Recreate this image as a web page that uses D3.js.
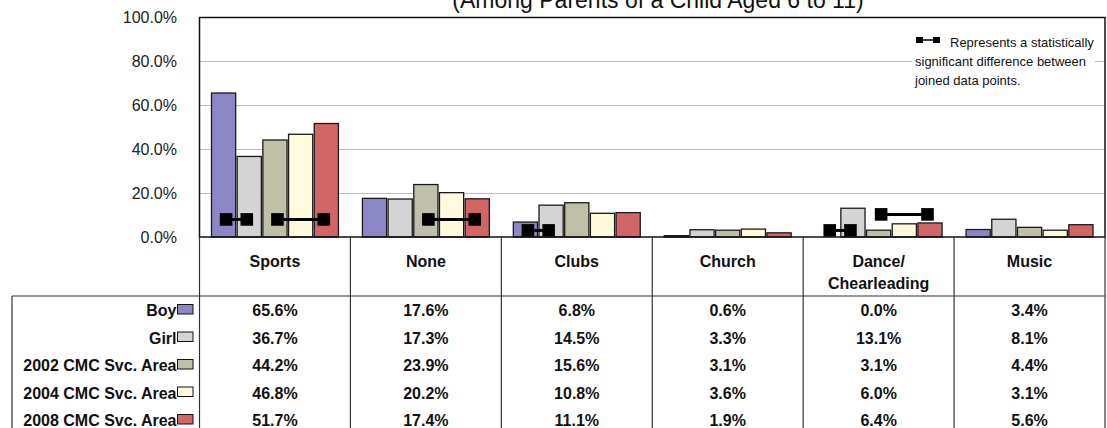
<!DOCTYPE html>
<html>
<head>
<meta charset="utf-8">
<script src="https://cdn.jsdelivr.net/npm/d3@7/dist/d3.min.js"></script>
<style>
  html, body { margin: 0; padding: 0; background: #fff; }
  svg { display: block; font-family: "Liberation Sans", Arial, sans-serif; }
</style>
</head>
<body>
<svg id="chart" width="1107" height="428"></svg>
<script>
// ---------- data ----------
const title = "(Among Parents of a Child Aged 6 to 11)";
const categories = ["Sports", "None", "Clubs", "Church", "Dance", "Music"];
const categoryLabels = [["Sports"], ["None"], ["Clubs"], ["Church"], ["Dance/", "Chearleading"], ["Music"]];
const seriesNames = ["Boy", "Girl", "2002 CMC Svc. Area", "2004 CMC Svc. Area", "2008 CMC Svc. Area"];
const seriesColors = ["#8b87c4", "#d4d4d4", "#c0c0a8", "#fffadc", "#d26666"];
const boy   = [65.6, 17.6, 6.8, 0.6, 0.0, 3.4];
const girl  = [36.7, 17.3, 14.5, 3.3, 13.1, 8.1];
const y2002 = [44.2, 23.9, 15.6, 3.1, 3.1, 4.4];
const y2004 = [46.8, 20.2, 10.8, 3.6, 6.0, 3.1];
const y2008 = [51.7, 17.4, 11.1, 1.9, 6.4, 5.6];
const seriesValues = [boy, girl, y2002, y2004, y2008];
const yTicks = [0, 20, 40, 60, 80, 100];
// significance markers: category, pair of series indices, marker level (%)
const sigCats   = ["Sports", "Sports", "None", "Clubs", "Dance", "Dance"];
const sigFrom   = [0, 2, 2, 0, 0, 2];
const sigTo     = [1, 4, 4, 1, 1, 4];
const sigLevel  = [8, 8, 8, 3, 3, 10.3];
const noteLines = ["Represents a statistically", "significant difference between", "joined data points."];

// ---------- layout ----------
const svg = d3.select("#chart");
const plotL = 199.5, plotR = 1105, plotT = 17.5, plotB = 237;
const tableTop = 237, headerBottom = 296, tableLeft = 12, tableBottom = 428;
const rowBase0 = 316, rowStep = 27.5;

const x = d3.scaleBand().domain(categories).range([plotL, plotR]).padding(0);
const xs = d3.scaleBand().domain(d3.range(seriesNames.length))
  .range([11.25, x.bandwidth() - 11.25]).padding(0);
const y = d3.scaleLinear().domain([0, 100]).range([plotB, plotT]);

// title
svg.append("text").attr("x", 658).attr("y", 8).attr("text-anchor", "middle")
  .attr("font-size", 23).attr("fill", "#111").text(title);

// gridlines
svg.append("g").selectAll("line").data(yTicks.filter(t => t > 0 && t < 100)).join("line")
  .attr("x1", plotL).attr("x2", plotR)
  .attr("y1", d => Math.round(y(d)) + 0.5).attr("y2", d => Math.round(y(d)) + 0.5)
  .attr("stroke", "#bdbdbd").attr("stroke-width", 1);

// y axis labels
const yAxis = d3.axisLeft(y).tickValues(yTicks).tickSize(0).tickPadding(22.5)
  .tickFormat(d => d3.format(".1f")(d) + "%");
const gy = svg.append("g").attr("transform", `translate(${plotL},0)`).call(yAxis);
gy.select(".domain").remove();
gy.selectAll("text").attr("font-size", 16).attr("fill", "#222")
  .attr("font-family", '"Liberation Sans", Arial, sans-serif');

// note box (white background covers gridline)
const note = svg.append("g");
note.append("rect").attr("x", 912).attr("y", 32).attr("width", 183).attr("height", 58).attr("fill", "#fff");
note.append("rect").attr("x", 916).attr("y", 37).attr("width", 7).attr("height", 6).attr("fill", "#000");
note.append("rect").attr("x", 933).attr("y", 37).attr("width", 7).attr("height", 6).attr("fill", "#000");
note.append("line").attr("x1", 923).attr("x2", 933).attr("y1", 40).attr("y2", 40).attr("stroke", "#000").attr("stroke-width", 1.5);
note.selectAll("text.note").data(noteLines).join("text").attr("class", "note")
  .attr("x", (d, i) => i === 0 ? 950 : 915).attr("y", (d, i) => 47 + i * 19)
  .attr("font-size", 13).attr("fill", "#111").text(d => d);

// bars
const bars = svg.append("g");
seriesValues.forEach((vals, si) => {
  bars.selectAll(null).data(vals.map((v, ci) => ({ v, c: categories[ci] }))).join("rect")
    .attr("x", d => x(d.c) + xs(si) + 0.75)
    .attr("width", xs.bandwidth() - 1.5)
    .attr("y", d => y(d.v))
    .attr("height", d => y(0) - y(d.v))
    .attr("fill", seriesColors[si])
    .attr("stroke", "#1a1a1a").attr("stroke-width", 1.3);
});

// significance markers
const sq = 12.6, inward = 2.5;
const sig = svg.append("g");
sigCats.forEach((c, i) => {
  const xa = x(c) + xs(sigFrom[i]) + xs.bandwidth() / 2 + inward;
  const xb = x(c) + xs(sigTo[i]) + xs.bandwidth() / 2 - inward;
  const yy = y(sigLevel[i]);
  sig.append("line").attr("x1", xa).attr("x2", xb).attr("y1", yy).attr("y2", yy)
    .attr("stroke", "#000").attr("stroke-width", 3);
  [xa, xb].forEach(cx => sig.append("rect").attr("x", cx - sq / 2).attr("y", yy - sq / 2)
    .attr("width", sq).attr("height", sq).attr("fill", "#000"));
});

// plot frame
svg.append("rect").attr("x", plotL).attr("y", plotT).attr("width", plotR - plotL).attr("height", plotB - plotT)
  .attr("fill", "none").attr("stroke", "#111").attr("stroke-width", 1.5);

// table lines
const tl = svg.append("g").attr("stroke", "#333").attr("stroke-width", 1.2);
const bounds = categories.map(c => x(c)).concat([plotR]);
tl.selectAll("line.v").data(bounds).join("line").attr("class", "v")
  .attr("x1", d => d).attr("x2", d => d).attr("y1", tableTop).attr("y2", tableBottom);
tl.append("line").attr("x1", tableLeft).attr("x2", plotR).attr("y1", headerBottom).attr("y2", headerBottom);
tl.append("line").attr("x1", tableLeft).attr("x2", tableLeft).attr("y1", headerBottom).attr("y2", tableBottom);

// header labels
const hdr = svg.append("g").attr("font-size", 16).attr("font-weight", "bold").attr("fill", "#111").attr("text-anchor", "middle");
categories.forEach((c, ci) => {
  categoryLabels[ci].forEach((line, li) => {
    hdr.append("text").attr("x", x(c) + x.bandwidth() / 2).attr("y", 267 + li * 21.5).text(line);
  });
});

// row labels + legend swatches + values
const rows = svg.append("g").attr("font-size", 16).attr("font-weight", "bold").attr("fill", "#111");
seriesNames.forEach((name, si) => {
  const base = rowBase0 + si * rowStep;
  rows.append("text").attr("x", 176.5).attr("y", base).attr("text-anchor", "end").text(name);
  rows.append("rect").attr("x", 177.5).attr("y", base - 11.5).attr("width", 15.5).attr("height", 9.5)
    .attr("fill", seriesColors[si]).attr("stroke", "#111").attr("stroke-width", 1);
  seriesValues[si].forEach((v, ci) => {
    rows.append("text").attr("x", x(categories[ci]) + x.bandwidth() / 2).attr("y", base)
      .attr("text-anchor", "middle").text(d3.format(".1f")(v) + "%");
  });
});
</script>
</body>
</html>
